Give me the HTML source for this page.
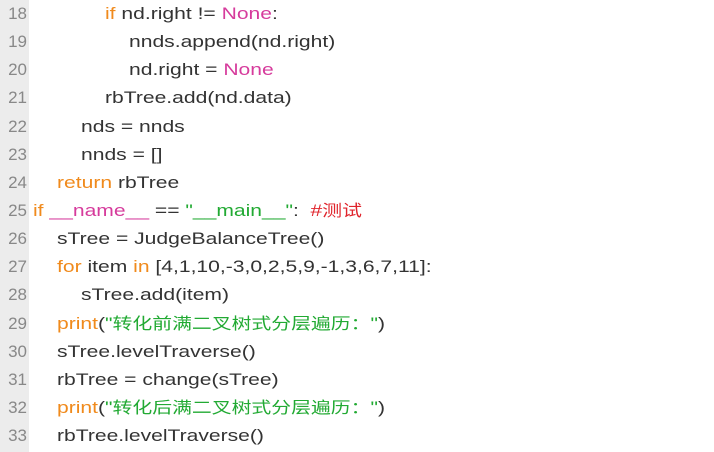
<!DOCTYPE html>
<html><head><style>
body{margin:0;width:714px;height:452px;background:#fff;overflow:hidden;position:relative;font-family:"Liberation Sans","Noto Sans CJK SC",sans-serif;font-size:17px;color:#333}
.g{position:absolute;left:0;top:0;width:29px;height:452px;background:#ececec}
.l{position:absolute;height:28px;line-height:28px;white-space:pre;transform:scaleX(1.24);transform-origin:0 0}
.n{position:absolute;left:0;width:27px;text-align:right;color:#888;height:28px;line-height:28px}
.k{color:#f08a1c}.m{color:#d63b9c}.s{color:#22aa33}.c{color:#e0242c}
.z{font-size:16px}
</style></head><body>
<div class="g"></div>
<div class="n" style="top:0">18</div><div class="l" style="top:0;left:105px"><span class="k">if</span> nd.right != <span class="m">None</span>:</div>
<div class="n" style="top:28px">19</div><div class="l" style="top:28px;left:129px">nnds.append(nd.right)</div>
<div class="n" style="top:56px">20</div><div class="l" style="top:56px;left:129px">nd.right = <span class="m">None</span></div>
<div class="n" style="top:84px">21</div><div class="l" style="top:84px;left:105px">rbTree.add(nd.data)</div>
<div class="n" style="top:113px">22</div><div class="l" style="top:113px;left:81px">nds = nnds</div>
<div class="n" style="top:141px">23</div><div class="l" style="top:141px;left:81px">nnds = []</div>
<div class="n" style="top:169px">24</div><div class="l" style="top:169px;left:57px"><span class="k">return</span> rbTree</div>
<div class="n" style="top:197px">25</div><div class="l" style="top:197px;left:33px"><span class="k">if</span> <span class="m">__name__</span> == <span class="s">"__main__"</span>:  <span class="c">#<span class="z">测试</span></span></div>
<div class="n" style="top:225px">26</div><div class="l" style="top:225px;left:57px">sTree = JudgeBalanceTree()</div>
<div class="n" style="top:253px">27</div><div class="l" style="top:253px;left:57px"><span class="k">for</span> item <span class="k">in</span> [4,1,10,-3,0,2,5,9,-1,3,6,7,11]:</div>
<div class="n" style="top:281px">28</div><div class="l" style="top:281px;left:81px">sTree.add(item)</div>
<div class="n" style="top:310px">29</div><div class="l" style="top:310px;left:57px"><span class="k">print</span>(<span class="s">"<span class="z">转化前满二叉树式分层遍历：</span>"</span>)</div>
<div class="n" style="top:338px">30</div><div class="l" style="top:338px;left:57px">sTree.levelTraverse()</div>
<div class="n" style="top:366px">31</div><div class="l" style="top:366px;left:57px">rbTree = change(sTree)</div>
<div class="n" style="top:394px">32</div><div class="l" style="top:394px;left:57px"><span class="k">print</span>(<span class="s">"<span class="z">转化后满二叉树式分层遍历：</span>"</span>)</div>
<div class="n" style="top:422px">33</div><div class="l" style="top:422px;left:57px">rbTree.levelTraverse()</div>
</body></html>
